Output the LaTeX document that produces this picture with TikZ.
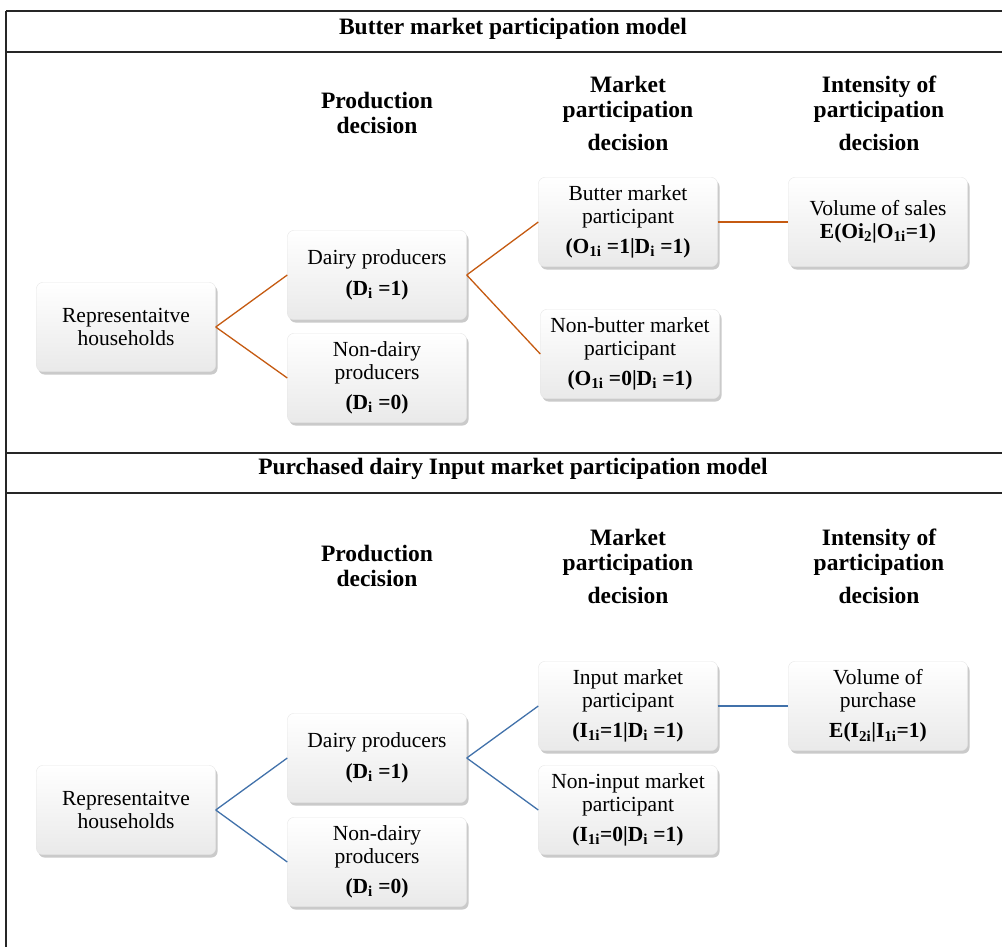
\documentclass[tikz,border=0pt]{standalone}
\usepackage{fontspec}
\setmainfont{Liberation Serif}
\usepackage{xcolor}
\usepackage{tikz}
\usetikzlibrary{positioning,shapes,shadows}
\definecolor{lineorange}{RGB}{197,90,17}
\definecolor{lineblue}{RGB}{65,113,170}
\tikzset{
  every overlay node/.style={}
}

\begin{document}
\begin{tikzpicture}[x=1pt,y=-1pt,
									box/.style = {rectangle, rounded corners=6pt, draw=gray!20, top color=white, bottom color=gray!17,
									              drop shadow={shadow xshift=2pt, shadow yshift=-3pt, fill=gray!70, opacity=.6},
									              minimum width=179pt, minimum height=89pt, align=center, inner sep=2pt,
									              font=\fontsize{21.5}{22.5}\selectfont},
									head/.style = {align=center, font=\bfseries\fontsize{23.5}{25}\selectfont},
									title/.style = {font=\bfseries\fontsize{23.5}{25}\selectfont},
									rule/.style = {line width=1.4pt, draw=black!85},
									orline/.style = {-, line width=1.3pt, draw=lineorange},
									blline/.style = {-, line width=1.3pt, draw=lineblue}]
					\useasboundingbox (0,0) rectangle (1002,947);
					
					% table frame
					\draw[rule] (6,11) -- (6,947);
					\draw[rule] (6,11) -- (1002,11);
					\draw[rule] (6,52) -- (1002,52);
					\draw[rule] (6,453) -- (1002,453);
					\draw[rule] (6,493) -- (1002,493);
					
					\node[title] (t1) at (513,29) {Butter market participation model};
					\node[title] (t2) at (513,469) {Purchased dairy Input market participation model};
					
					% butter model
					\node[head] (pd1) at (377,113) {Production\\decision};
					\node[head] (mp1) at (628,113) {Market\\participation\\[8pt]decision};
					\node[head] (ip1) at (879,113) {Intensity of\\participation\\[8pt]decision};
					
					\node[box] (rep1) at (126,327) {Representaitve\\households};
					\node[box] (dp1) at (377,275) {Dairy producers\\[8pt]\textbf{(D\textsubscript{i} =1)}};
					\node[box] (nd1) at (377,378) {Non-dairy\\producers\\[8pt]\textbf{(D\textsubscript{i} =0)}};
					\node[box] (bm1) at (628,222) {Butter market\\participant\\[8pt]\textbf{(O\textsubscript{1i} =1|D\textsubscript{i} =1)}};
					\node[box] (vs1) at (878,222) {Volume of sales\\\textbf{E(Oi\textsubscript{2}|O\textsubscript{1i}=1)}};
					\node[box] (nb1) at (630,354) {Non-butter market\\participant\\[8pt]\textbf{(O\textsubscript{1i} =0|D\textsubscript{i} =1)}};
					
					\draw[orline] (rep1.east) to (dp1.west);
					\draw[orline] (rep1.east) to (nd1.west);
					\draw[orline] (dp1.east) to (bm1.west);
					\draw[orline] (dp1.east) to (nb1.west);
					\draw[orline] (bm1.east) to (vs1.west);
					
					% input model
					\node[head] (pd2) at (377,566) {Production\\decision};
					\node[head] (mp2) at (628,566) {Market\\participation\\[8pt]decision};
					\node[head] (ip2) at (879,566) {Intensity of\\participation\\[8pt]decision};
					
					\node[box] (rep2) at (126,810) {Representaitve\\households};
					\node[box] (dp2) at (377,758) {Dairy producers\\[8pt]\textbf{(D\textsubscript{i} =1)}};
					\node[box] (nd2) at (377,862) {Non-dairy\\producers\\[8pt]\textbf{(D\textsubscript{i} =0)}};
					\node[box] (im2) at (628,706) {Input market\\participant\\[8pt]\textbf{(I\textsubscript{1i}=1|D\textsubscript{i} =1)}};
					\node[box] (vp2) at (878,706) {Volume of\\purchase\\[8pt]\textbf{E(I\textsubscript{2i}|I\textsubscript{1i}=1)}};
					\node[box] (ni2) at (628,810) {Non-input market\\participant\\[8pt]\textbf{(I\textsubscript{1i}=0|D\textsubscript{i} =1)}};
					
					\draw[blline] (rep2.east) to (dp2.west);
					\draw[blline] (rep2.east) to (nd2.west);
					\draw[blline] (dp2.east) to (im2.west);
					\draw[blline] (dp2.east) to (ni2.west);
					\draw[blline] (im2.east) to (vp2.west);
				\end{tikzpicture}
\end{document}
